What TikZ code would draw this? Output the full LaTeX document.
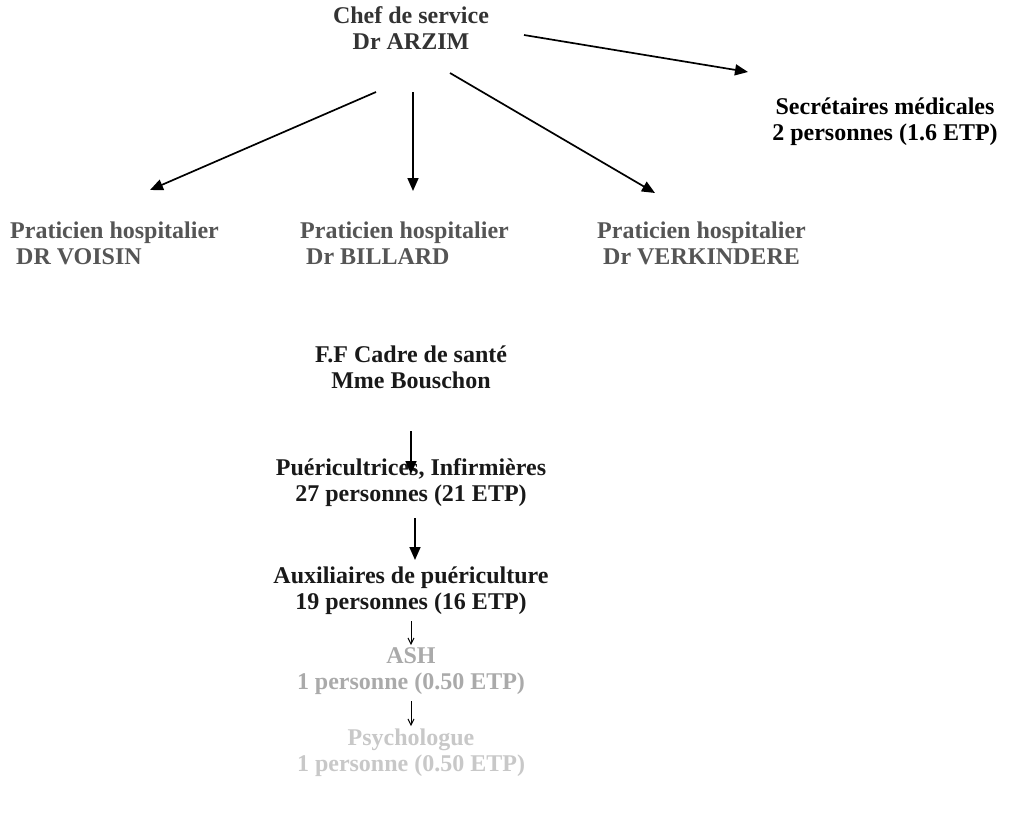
\documentclass[tikz,border=0pt]{standalone}
\usepackage{fontspec}
\setmainfont{Liberation Serif}
\usetikzlibrary{arrows.meta}
\definecolor{chefc}{HTML}{333333}
\definecolor{pratc}{HTML}{555555}
\definecolor{ashc}{HTML}{AAAAAA}
\definecolor{psyc}{HTML}{C8C8C8}
\begin{document}
\begin{tikzpicture}[x=1pt,y=-1pt,
  lbl/.style={inner sep=0pt, align=center, font=\fontsize{24}{26}\selectfont\bfseries},
  prat/.style={inner sep=0pt, align=left, anchor=north west, text=pratc, font=\fontsize{24}{26}\selectfont\bfseries},
  conn/.style={line width=1.7pt, -{Triangle[length=13pt,width=11pt]}},
  smallarr/.style={line width=1pt, -{Straight Barb[length=6pt,width=6pt]}}]
\useasboundingbox (0,0) rectangle (1010,812);
\node[lbl, text=chefc] (chef) at (411,28) {Chef de service\\Dr ARZIM};
\node[lbl, text=black] (secr) at (885,122) {Secrétaires médicales\\2 personnes (1.6 ETP)};
\node[prat] (p1) at (10,222) {Praticien hospitalier\\\ DR VOISIN};
\node[prat] (p2) at (300,222) {Praticien hospitalier\\\ Dr BILLARD};
\node[prat] (p3) at (597,222) {Praticien hospitalier\\\ Dr VERKINDERE};
\node[lbl, text=black!90] (cadre) at (411,367) {F.F Cadre de santé\\Mme Bouschon};
\node[lbl, text=black!90] (puer) at (411,483) {Puéricultrices, Infirmières\\27 personnes (21 ETP)};
\node[lbl, text=black!90] (aux) at (411,591) {Auxiliaires de puériculture\\19 personnes (16 ETP)};
\node[lbl, text=ashc] (ash) at (411,671) {ASH\\1 personne (0.50 ETP)};
\node[lbl, text=psyc] (psy) at (411,753) {Psychologue\\1 personne (0.50 ETP)};
% free ends
\coordinate (c1s) at (524,35);  \coordinate (c1e) at (748,72);
\coordinate (c2s) at (376,92);  \coordinate (c2e) at (150,190);
\coordinate (c3s) at (413,92);  \coordinate (c3e) at (413,191);
\coordinate (c4s) at (450,73);  \coordinate (c4e) at (655,193);
\coordinate (d1s) at (411,431); \coordinate (d1e) at (411,474);
\coordinate (d2s) at (415,518); \coordinate (d2e) at (415,560);
\coordinate (d3s) at (411,621); \coordinate (d3e) at (411,645);
\coordinate (d4s) at (411,701); \coordinate (d4e) at (411,726);
\draw[conn] (c1s) -- (c1e);
\draw[conn] (c2s) -- (c2e);
\draw[conn] (c3s) -- (c3e);
\draw[conn] (c4s) -- (c4e);
\draw[conn] (d1s) -- (d1e);
\draw[conn] (d2s) -- (d2e);
\draw[smallarr] (d3s) -- (d3e);
\draw[smallarr] (d4s) -- (d4e);
\end{tikzpicture}
\end{document}
